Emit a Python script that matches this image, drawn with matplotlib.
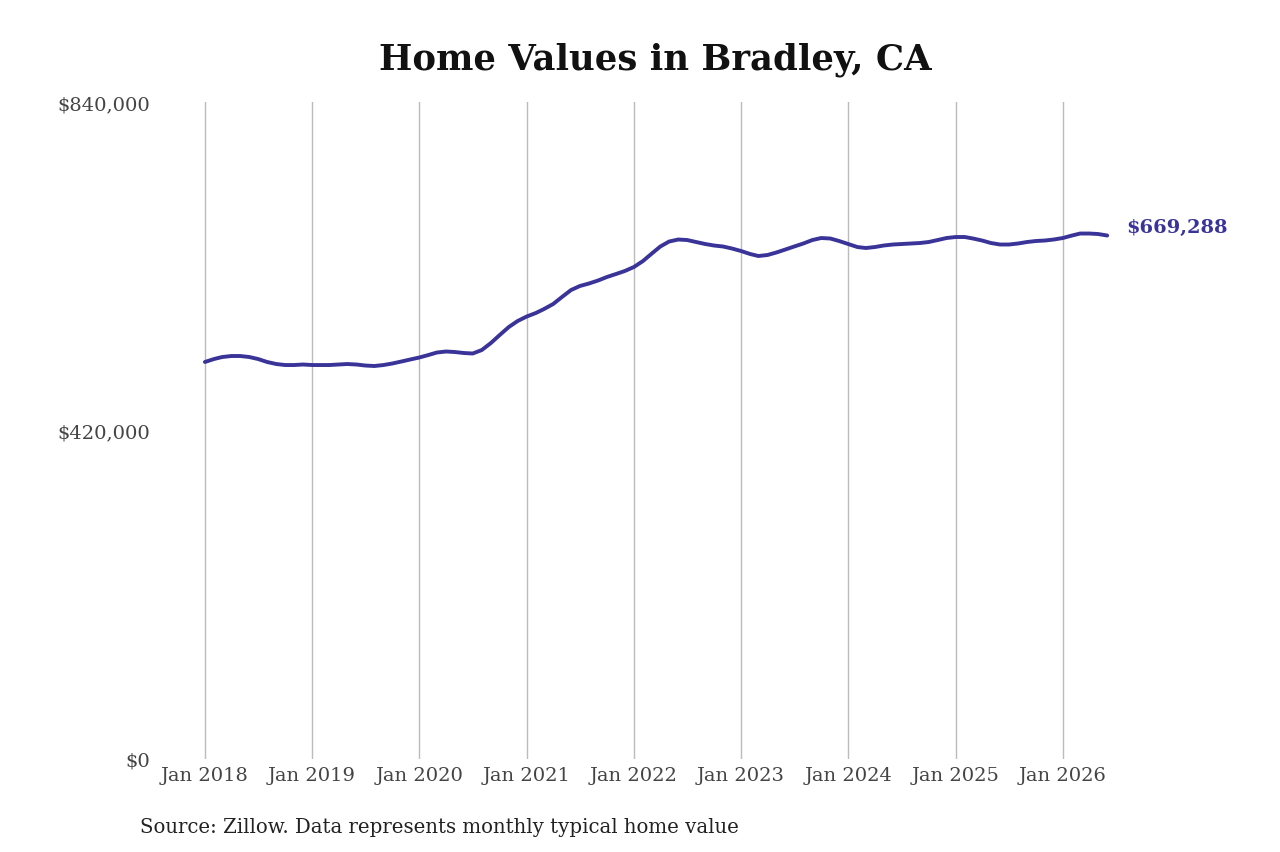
import pandas as pd
import matplotlib.pyplot as plt
import matplotlib.dates as mdates
from matplotlib.ticker import FuncFormatter

# monthly typical home value, Jan 2018 - Jun 2026
values_2018 = [507600, 511400, 513960, 515240, 515240, 513960, 511400, 507570, 505000, 503700, 503700, 504370]
values_2019 = [503700, 503700, 503700, 504370, 505000, 504370, 503080, 502450, 503700, 505640, 508200, 510760]
values_2020 = [513310, 516500, 519700, 521000, 520350, 519070, 518430, 522900, 531860, 542080, 552310, 559980]
values_2021 = [565740, 570210, 575330, 581720, 590670, 599620, 604730, 607930, 611760, 616240, 620070, 623910]
values_2022 = [629020, 636690, 645640, 655230, 661620, 664180, 663540, 660980, 658430, 656510, 655230, 652670]
values_2023 = [649480, 645640, 643090, 644360, 647560, 651400, 655230, 659060, 663540, 666100, 665460, 662260]
values_2024 = [658430, 654590, 653310, 654590, 656510, 657790, 658430, 659060, 659710, 660980, 663540, 666100]
values_2025 = [667380, 667380, 665460, 662900, 659710, 657790, 657790, 659060, 660980, 662260, 662900, 664180]
values_2026 = [666100, 669290, 671840, 671840, 671210, 669288]

values = (values_2018 + values_2019 + values_2020 + values_2021 + values_2022
          + values_2023 + values_2024 + values_2025 + values_2026)
dates = pd.date_range("2018-01-01", periods=len(values), freq="MS")

y_ticks = [0, 420000, 840000]
x_ticks = pd.date_range("2018-01-01", "2026-01-01", freq="YS")

line_color = "#3a3499"
plt.rcParams["font.family"] = ["DejaVu Serif"]

fig = plt.figure(figsize=(12.8, 8.53), dpi=100)
ax = fig.add_axes([160 / 1280, 1 - 760 / 853, (1116 - 160) / 1280, (760 - 103) / 853])

ax.plot(dates, values, color=line_color, linewidth=2.8, solid_capstyle="round",
        solid_joinstyle="round")
ax.annotate("${:,.0f}".format(values[-1]), xy=(dates[-1], values[-1]),
            xytext=(14, 6), textcoords="offset points", va="center", ha="left",
            fontsize=14, fontweight="bold", color=line_color)

ax.set_ylim(0, 840000)
ax.set_xlim(pd.Timestamp("2017-08-01"), pd.Timestamp("2026-07-01"))
ax.set_yticks(y_ticks)
ax.yaxis.set_major_formatter(FuncFormatter(lambda v, p: "${:,.0f}".format(v)))
ax.set_xticks(x_ticks)
ax.xaxis.set_major_formatter(mdates.DateFormatter("%b %Y"))

ax.grid(axis="x", color="#bbbbbb", linewidth=1)
ax.grid(axis="y", visible=False)
for s in ax.spines.values():
    s.set_visible(False)
ax.tick_params(axis="both", length=0, labelsize=14, labelcolor="#444444")
ax.tick_params(axis="x", pad=5)
ax.tick_params(axis="y", pad=7)

fig.text(0.512, 1 - 60 / 853, "Home Values in Bradley, CA", ha="center", va="center",
         fontsize=25.5, fontweight="bold", color="#111111")
fig.text(140 / 1280, 1 - 828 / 853, "Source: Zillow. Data represents monthly typical home value",
         ha="left", va="center", fontsize=14.2, color="#222222")

fig.savefig("out.png", dpi=100, facecolor="white")
